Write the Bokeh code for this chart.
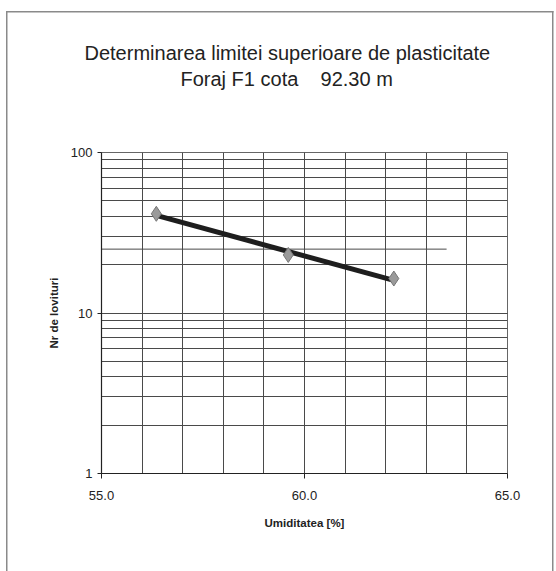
from bokeh.plotting import figure
from bokeh.models import LogTicker, SingleIntervalTicker, Range1d, Title
from bokeh.embed import file_html
from bokeh.resources import INLINE
import numpy as np

# ---- data ----
title_lines = ["Determinarea limitei superioare de plasticitate",
               "Foraj F1 cota\u00a0\u00a0\u00a0\u00a092.30 m"]
x_label = "Umiditatea [%]"
y_label = "Nr de lovituri"
umiditate = [56.35, 59.6, 62.2]
lovituri = [41.5, 23.0, 16.4]
ref_x = [55.0, 63.5]
ref_y = [25.0, 25.0]
x_ticks = [55, 60, 65]
y_ticks = [1, 10, 100]

FONT = "Liberation Sans"

p = figure(width=556, height=571, x_axis_type="linear", y_axis_type="log",
           x_range=Range1d(55, 65), y_range=Range1d(1, 100),
           output_backend="svg", toolbar_location=None, title=None,
           min_border_left=101, min_border_right=49,
           min_border_top=152, min_border_bottom=98)
p.background_fill_color = "white"
p.border_fill_alpha = 0
g = "linear-gradient(#8a8a8a,#8a8a8a)"
p.styles = {
    "background-color": "white",
    "background-image": f"{g}, {g}, {g}",
    "background-position": "6px 11px, 6px 11px, 552px 11px",
    "background-size": "1.5px 600px, 547.5px 1.5px, 1.5px 600px",
    "background-repeat": "no-repeat",
}
p.outline_line_color = "#666666"
p.outline_line_width = 1

# title: spacer nearest the plot, then line 2, then line 1
for txt, off, so in [(" ", 0, 39), (title_lines[1], 79, 0),
                     (title_lines[0], -17, 4)]:
    p.add_layout(Title(text=txt, align="left", offset=off, standoff=so,
                       text_font=FONT, text_font_size="20px",
                       text_font_style="normal", text_color="#222222"),
                 "above")

# axes
p.xaxis.ticker = SingleIntervalTicker(interval=5, num_minor_ticks=5)
p.xaxis.major_label_overrides = {t: f"{t:.1f}" for t in x_ticks}
p.yaxis.ticker = LogTicker(num_minor_ticks=10)
p.yaxis.major_label_overrides = {t: str(t) for t in y_ticks}
for ax in (p.xaxis[0], p.yaxis[0]):
    ax.axis_line_color = "#222222"
    ax.axis_line_width = 1.2
    ax.major_tick_line_color = "#222222"
    ax.minor_tick_line_color = None
    ax.major_tick_in = 0
    ax.major_label_text_font = FONT
    ax.major_label_text_font_size = "13px"
    ax.major_label_text_color = "#222222"
    ax.axis_label_text_font = FONT
    ax.axis_label_text_font_size = "11.5px"
    ax.axis_label_text_font_style = "bold"
    ax.axis_label_text_color = "#222222"
p.xaxis.major_tick_out = 5
p.yaxis.major_tick_out = 4
p.xaxis.major_label_standoff = 12
p.yaxis.major_label_standoff = 5
p.xaxis.axis_label_standoff = 14
p.yaxis.axis_label_standoff = 8
p.xaxis.axis_label = x_label
p.yaxis.axis_label = y_label

# grids
p.xgrid.ticker = SingleIntervalTicker(interval=5, num_minor_ticks=5)
p.ygrid.ticker = LogTicker(num_minor_ticks=10)
for gr in (p.xgrid[0], p.ygrid[0]):
    gr.grid_line_color = "#4a4a4a"
    gr.minor_grid_line_color = "#4a4a4a"
    gr.grid_line_width = 1
    gr.minor_grid_line_width = 1

# reference line at 25 blows
p.line(ref_x, ref_y, line_color="#4a4a4a", line_width=1)

# trend line (exponential fit)
coef = np.polyfit(umiditate, np.log10(lovituri), 1)
tx = np.array([min(umiditate), max(umiditate)])
ty = 10 ** np.polyval(coef, tx)
p.line(tx, ty, line_color="#1e1e1e", line_width=5)

# data points
p.scatter(umiditate, lovituri, marker="diamond", size=15,
          fill_color="#9a9a9a", line_color="#777777", line_width=1)

open("out.html", "w").write(file_html(p, INLINE))
